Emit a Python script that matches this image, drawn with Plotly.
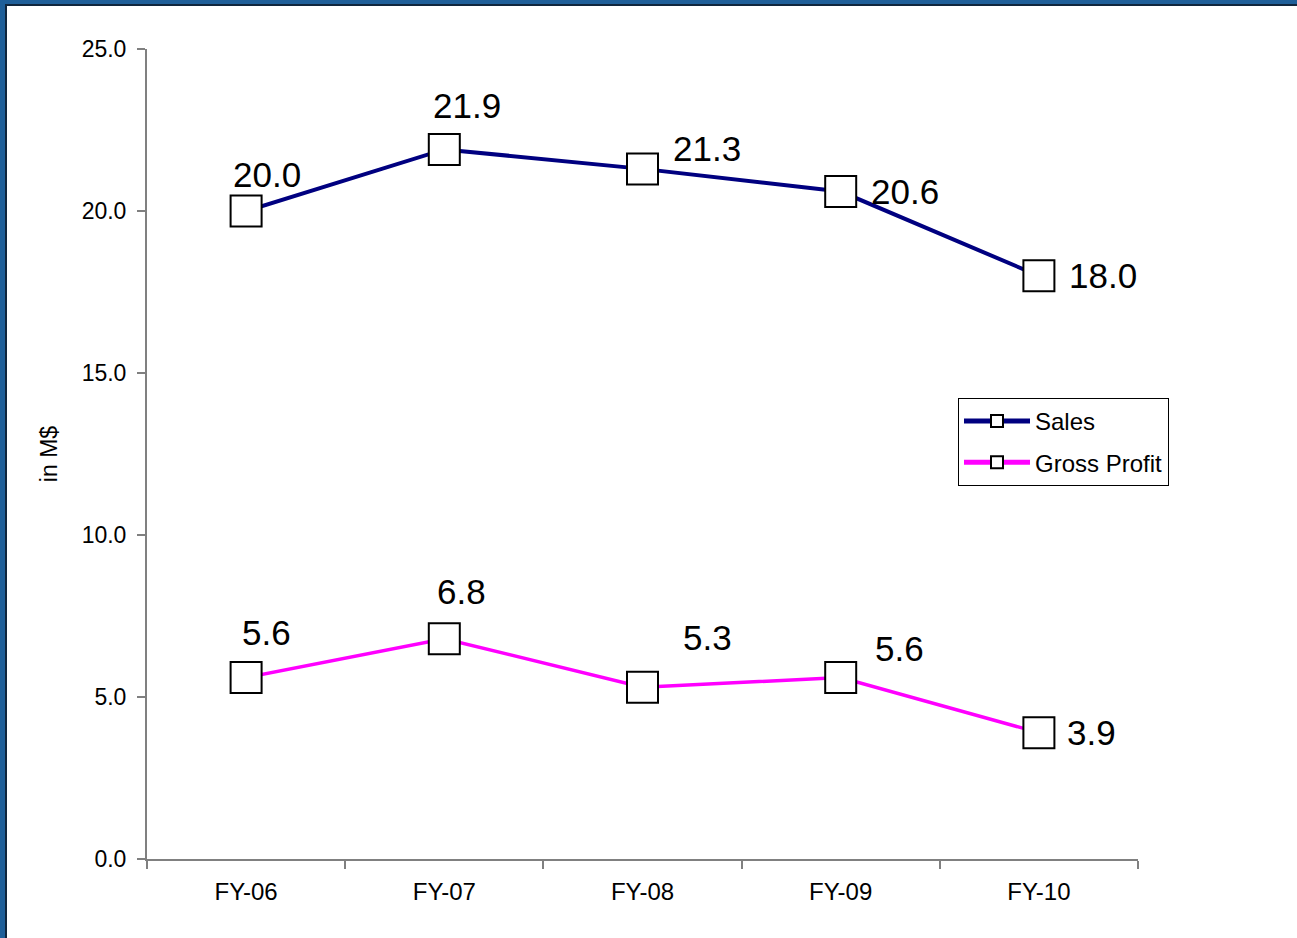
"""Sales / Gross Profit line chart."""

import plotly.graph_objects as go

years = ["FY-06", "FY-07", "FY-08", "FY-09", "FY-10"]
sales = [20.0, 21.9, 21.3, 20.6, 18.0]
gross_profit = [5.6, 6.8, 5.3, 5.6, 3.9]
y_ticks = [0, 5, 10, 15, 20, 25]

# label offsets in pixels (dx, dy) relative to each point
sales_offsets = [(21, 37), (23, 44), (64, 20), (64, 0), (64, 0)]
gp_offsets = [(20, 45), (17, 47), (65, 50), (59, 29), (53, 0)]

W, H = 1297, 938
L, R, T, B = 147, 159, 49, 79
PW, PH = W - L - R, H - T - B

FRAME_BLUE = "#1F5F99"
FRAME_DARK = "#10263D"
AXIS_GRAY = "#808080"
FONT = "Liberation Sans, Arial, sans-serif"

fig = go.Figure()

for name, vals, color, width in [
    ("Sales", sales, "#000080", 4),
    ("Gross Profit", gross_profit, "#FF00FF", 3.5),
]:
    fig.add_trace(
        go.Scatter(
            x=years,
            y=vals,
            mode="lines+markers",
            name=name,
            legendgroup=name,
            line=dict(color=color, width=width),
            marker=dict(symbol="square", size=31, color="white", line=dict(color="black", width=2)),
        )
    )

for vals, offsets in [(sales, sales_offsets), (gross_profit, gp_offsets)]:
    for x, v, (dx, dy) in zip(years, vals, offsets):
        fig.add_annotation(
            x=x,
            y=v,
            text=f"{v:.1f}",
            showarrow=False,
            xshift=dx,
            yshift=dy,
            font=dict(size=35, color="black", family=FONT),
        )


def px(x):
    return (x - L) / PW


def py(y):
    return (H - B - y) / PH


# slide frame: blue bar on left and top with a dark inner edge
fig.add_shape(type="rect", xref="paper", yref="paper", x0=px(0), x1=px(7), y0=py(H), y1=py(0),
              fillcolor=FRAME_DARK, line_width=0, layer="below")
fig.add_shape(type="rect", xref="paper", yref="paper", x0=px(0), x1=px(W), y0=py(6), y1=py(0),
              fillcolor=FRAME_DARK, line_width=0, layer="below")
fig.add_shape(type="rect", xref="paper", yref="paper", x0=px(0), x1=px(5), y0=py(H), y1=py(0),
              fillcolor=FRAME_BLUE, line_width=0, layer="below")
fig.add_shape(type="rect", xref="paper", yref="paper", x0=px(0), x1=px(W), y0=py(4), y1=py(0),
              fillcolor=FRAME_BLUE, line_width=0, layer="below")

fig.update_layout(
    width=W,
    height=H,
    margin=dict(l=L, r=R, t=T, b=B),
    paper_bgcolor="white",
    plot_bgcolor="white",
    font=dict(family=FONT, size=22, color="black"),
    showlegend=True,
    legend=dict(
        x=px(958),
        y=py(398),
        xanchor="left",
        yanchor="top",
        bordercolor="black",
        borderwidth=1,
        bgcolor="white",
        font=dict(size=24, family=FONT),
        itemsizing="constant",
        itemwidth=66,
        traceorder="grouped",
        tracegroupgap=7,
    ),
)
fig.update_xaxes(
    showgrid=False,
    showline=True,
    linecolor=AXIS_GRAY,
    linewidth=2,
    ticks="outside",
    tickson="boundaries",
    ticklen=8,
    tickcolor=AXIS_GRAY,
    tickwidth=2,
    tickfont=dict(size=24),
    ticklabelstandoff=10,
    range=[-0.5, 4.5],
)
fig.update_yaxes(
    range=[0, 25],
    tickvals=y_ticks,
    tickformat=".1f",
    showgrid=False,
    zeroline=False,
    showline=True,
    linecolor=AXIS_GRAY,
    linewidth=2,
    ticks="outside",
    ticklen=8,
    tickcolor=AXIS_GRAY,
    tickwidth=2,
    tickfont=dict(size=23),
    ticklabelstandoff=6,
    title=dict(text="in M$", font=dict(size=23), standoff=18),
)

# drop the default page margin so the figure sits at the window's corner
fig.write_html(
    "out.html",
    config={"displayModeBar": False},
    post_script="document.body.style.margin='0px';",
)
